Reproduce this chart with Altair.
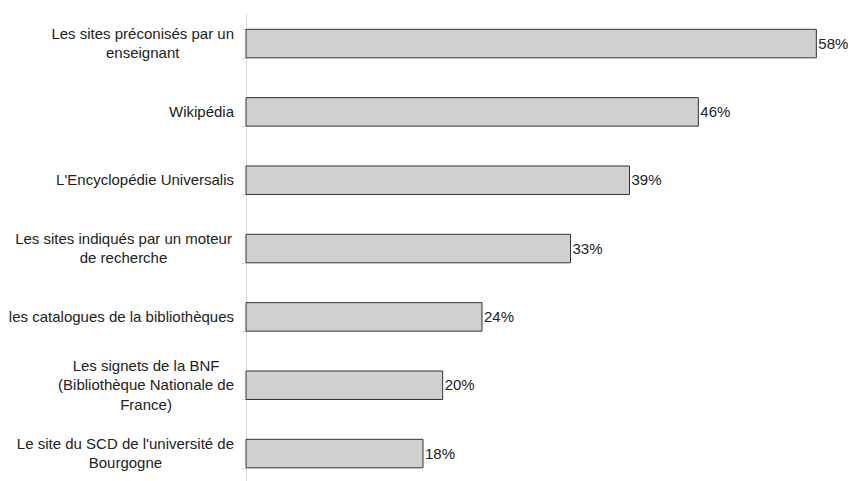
import altair as alt
import pandas as pd

categories = [
    "Les sites préconisés par un|enseignant",
    "Wikipédia",
    "L'Encyclopédie Universalis",
    "Les  sites indiqués par un moteur|de recherche",
    "les catalogues de la bibliothèques",
    "Les signets de la BNF|(Bibliothèque Nationale de|France)",
    "Le site du SCD de l'université de|Bourgogne",
]
values = [58, 46, 39, 33, 24, 20, 18]
value_labels = ["58%", "46%", "39%", "33%", "24%", "20%", "18%"]

FONT = "Liberation Sans"
FS = 15
LH = 19.5

PLOT_W = 590
PLOT_H = 468
P_IN, P_OUT, ALIGN = 0.583, 0.216, 0.553
STEP = PLOT_H / (len(categories) - P_IN + 2 * P_OUT)
BANDWIDTH = STEP * (1 - P_IN)

# Arial / Liberation Sans advance widths (per 1000 em) used to centre wrapped label lines
W = {" ": 278, "'": 191, "(": 333, ")": 333, "B": 667, "C": 722, "D": 722, "E": 667,
     "F": 611, "L": 556, "N": 722, "S": 667, "U": 722, "W": 944, "a": 556, "b": 556,
     "c": 500, "d": 556, "e": 556, "é": 556, "è": 556, "f": 278, "g": 556, "h": 556,
     "i": 222, "j": 222, "k": 500, "l": 222, "m": 833, "n": 556, "o": 556, "p": 556,
     "q": 556, "r": 333, "s": 500, "t": 278, "u": 556, "v": 500, "w": 722, "x": 500,
     "y": 500, "z": 500}


def text_w(s):
    return sum(W.get(ch, 556) for ch in s) * FS / 1000.0


df = pd.DataFrame({"cat": categories, "val": values, "lab": value_labels})

rows = []
for c in categories:
    lines = c.split("|")
    bw = max(text_w(l) for l in lines)
    n = len(lines)
    for j, l in enumerate(lines):
        rows.append({"cat": c, "line": l, "bw": bw,
                     "off": BANDWIDTH / 2 + (j - (n - 1) / 2.0) * LH})
lab_df = pd.DataFrame(rows)

y_scale = alt.Scale(paddingInner=P_IN, paddingOuter=P_OUT, align=ALIGN)

y_enc = alt.Y(
    "cat:N",
    sort=categories,
    title=None,
    scale=y_scale,
    axis=alt.Axis(
        labels=False,
        tickBand="extent",
        tickSize=5,
        tickColor="#d9d9d9",
        tickWidth=1,
        domainColor="#d9d9d9",
        grid=False,
    ),
)
x_enc = alt.X("val:Q", scale=alt.Scale(domain=[0, 60], nice=False), axis=None)

bars = alt.Chart(df).mark_bar(
    fill="#d0d0d0", stroke="#333333", strokeWidth=1
).encode(x=x_enc, y=y_enc)

texts = alt.Chart(df).mark_text(
    align="left", baseline="middle", dx=2, font=FONT, fontSize=FS, color="#222222"
).encode(x=x_enc, y=alt.Y("cat:N", sort=categories), text="lab:N")

cat_labels = alt.Chart(lab_df).transform_calculate(
    xc="-12 - datum.bw / 2"
).mark_text(
    align="center", baseline="middle", font=FONT, fontSize=FS, color="#222222"
).encode(
    x=alt.X("xc:Q", scale=None),
    y=alt.Y("cat:N", sort=categories),
    yOffset=alt.YOffset("off:Q", scale=None),
    text="line:N",
)

chart = (
    alt.layer(bars, texts, cat_labels)
    .properties(
        width=PLOT_W,
        height=PLOT_H,
        background="white",
        padding={"left": 238, "top": 5, "right": 12, "bottom": 0},
        autosize=alt.AutoSizeParams(type="none"),
    )
    .configure_view(stroke=None, strokeWidth=0)
)

chart.save("out.html", embed_options={"renderer": "svg", "actions": False})
